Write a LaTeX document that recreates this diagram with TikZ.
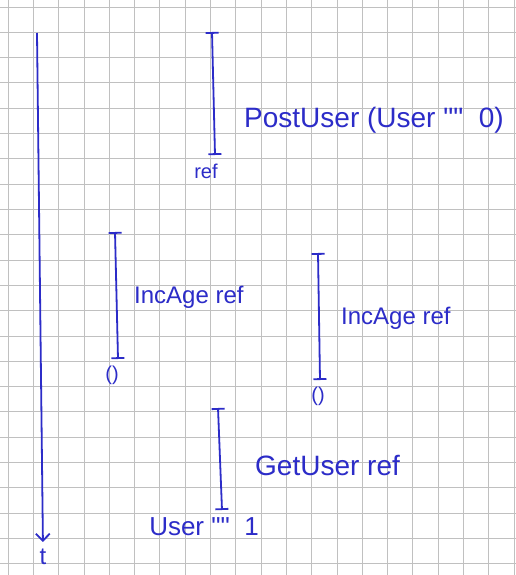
\documentclass[tikz,border=0pt]{standalone}
\usepackage{fontspec}
\setmainfont{Liberation Sans}
\usetikzlibrary{positioning,arrows.meta}
\definecolor{pen}{HTML}{2C2CC8}
\definecolor{paper}{HTML}{C0C0C0}
\tikzset{
  gridline/.style={draw=paper, line width=0.8pt},
  span/.style={{Bar[width=13pt]}-{Bar[width=13pt]}, pen, line width=1.8pt},
  axis/.style={-{Straight Barb[length=7pt,width=14pt]}, pen, line width=1.8pt},
  lbl/.style={font=\fontsize{24}{28}\selectfont, text=pen, inner sep=1pt},
  big/.style={lbl, font=\fontsize{28}{32}\selectfont},
  res/.style={font=\fontsize{20}{24}\selectfont, text=pen, inner sep=1pt},
}
\begin{document}
\begin{tikzpicture}[x=1pt, y=-1pt]
  \useasboundingbox[fill=white] (0,0) rectangle (516,575);
  % squared paper
  \foreach \i in {0,...,20} \draw[gridline] ({8+25.3*\i},0) -- ({8+25.3*\i},575);
  \foreach \j in {0,...,22} \draw[gridline] (0,{7+25.3*\j}) -- (516,{7+25.3*\j});
  % time runs down
  \coordinate (t0) at (37,33);
  \node[lbl] (t) at (43,557) {t};
  \draw[axis, shorten >=6pt] (t0) -- (t.north);
  % PostUser
  \coordinate (post-a) at (212,32); \coordinate (post-b) at (215,155);
  \draw[span] (post-a) -- (post-b);
  \node[big, anchor=west] (post) at (243,120) {PostUser (User \textquotedbl\textquotedbl\ \ 0)};
  \node[res, below=8pt of post-b, xshift=-9pt] (post-res) {ref};
  % first IncAge
  \coordinate (inc1-a) at (115,232); \coordinate (inc1-b) at (118,359);
  \draw[span] (inc1-a) -- (inc1-b);
  \node[lbl, anchor=west] (inc1) at (133,297) {IncAge ref};
  \node[res, below=6pt of inc1-b, xshift=-6pt] (inc1-res) {()};
  % second IncAge
  \coordinate (inc2-a) at (318,253); \coordinate (inc2-b) at (320,380);
  \draw[span] (inc2-a) -- (inc2-b);
  \node[lbl, anchor=west] (inc2) at (340,318) {IncAge ref};
  \node[res, below=6pt of inc2-b, xshift=-2pt] (inc2-res) {()};
  % GetUser
  \coordinate (get-a) at (218,408); \coordinate (get-b) at (222,510);
  \draw[span] (get-a) -- (get-b);
  \node[big, anchor=west] (get) at (254,465) {GetUser ref};
  \node[lbl, font=\fontsize{26}{30}\selectfont] (get-res) at (204,527) {User \textquotedbl\textquotedbl\ \ 1};
\end{tikzpicture}
\end{document}
